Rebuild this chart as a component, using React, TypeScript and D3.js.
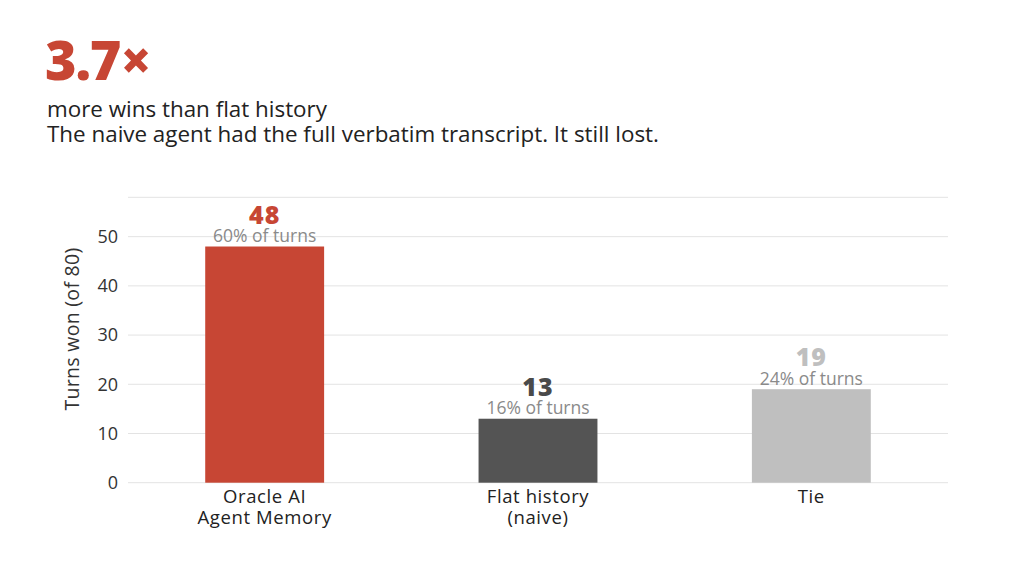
import React from "react";
import * as d3 from "d3";

const categories = ["Oracle AI|Agent Memory", "Flat history|(naive)", "Tie"];
const values = [48, 13, 19];
const totalTurns = 80;
const barColors = ["#C74634", "#545454", "#BFBFBF"];
const valueColors = ["#C74634", "#4A4A4A", "#BFBFBF"];
const yTicks = [0, 10, 20, 30, 40, 50];
const headline = "3.7×";
const subtitle1 = "more wins than flat history";
const subtitle2 = "The naive agent had the full verbatim transcript. It still lost.";
const yTitle = "Turns won (of 80)";

const W = 1024;
const H = 563;
const FONT = "'Open Sans', sans-serif";

export default function App() {
  const left = 128, right = 948, top = 197.3, bottom = 482.7;
  const y = d3.scaleLinear().domain([0, 58]).range([bottom, top]);
  const x = d3
    .scaleBand<string>()
    .domain(categories)
    .range([left, right])
    .paddingInner(0.565)
    .paddingOuter(0.2825);
  const bw = x.bandwidth();

  return (
    <svg
      width={W}
      height={H}
      style={{ position: "absolute", left: 0, top: 0, background: "#fff" }}
      fontFamily={FONT}
    >
      <text x={45} y={80} fontSize={54} fontWeight={800} fill="#C74634" letterSpacing={-1.2}>
        {headline}
      </text>
      <text x={47} y={117} fontSize={22.4} fill="#222">
        {subtitle1}
      </text>
      <text x={47} y={142} fontSize={22.4} fill="#222">
        {subtitle2}
      </text>

      {[...yTicks, 58].map((t) => (
        <line key={t} x1={left} x2={right} y1={y(t)} y2={y(t)} stroke="#E3E3E3" strokeWidth={1} />
      ))}
      {yTicks.map((t) => (
        <text key={t} x={118} y={y(t)} dy="0.35em" textAnchor="end" fontSize={18} fill="#333">
          {t}
        </text>
      ))}
      <text
        transform={`translate(79, 329) rotate(-90)`}
        textAnchor="middle"
        fontSize={19.5}
        letterSpacing={0.3}
        fill="#333"
      >
        {yTitle}
      </text>

      {categories.map((c, i) => {
        const x0 = x(c)!;
        const cx = x0 + bw / 2;
        const v = values[i];
        const yt = y(v);
        const pct = Math.round((v / totalTurns) * 100);
        const lines = c.split("|");
        return (
          <g key={c}>
            <rect x={x0} y={yt} width={bw} height={bottom - yt} fill={barColors[i]} />
            <text x={cx} y={yt - 4.5} textAnchor="middle" fontSize={17.5} fill="#8A8A8A">
              {`${pct}% of turns`}
            </text>
            <text
              x={cx}
              y={yt - 23}
              textAnchor="middle"
              fontSize={25}
              fontWeight={800}
              letterSpacing={1}
              fill={valueColors[i]}
            >
              {v}
            </text>
            {lines.map((l, j) => (
              <text
                key={j}
                x={cx}
                y={502.5 + j * 21.5}
                textAnchor="middle"
                fontSize={18.5}
                letterSpacing={0.6}
                fill="#222"
              >
                {l}
              </text>
            ))}
          </g>
        );
      })}
    </svg>
  );
}
